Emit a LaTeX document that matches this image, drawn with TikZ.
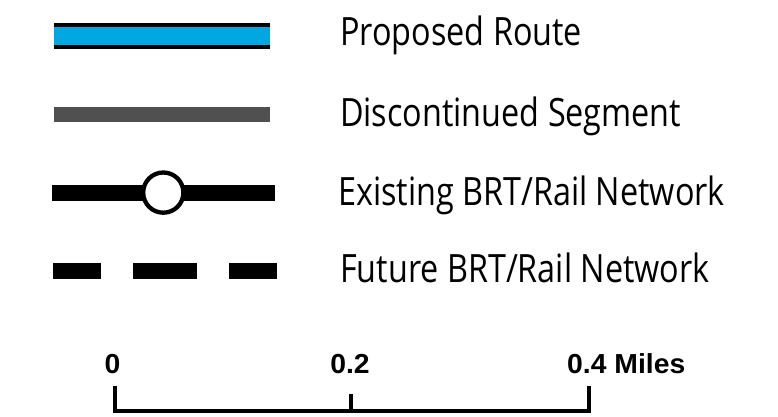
\documentclass[tikz,border=0pt]{standalone}
\usepackage{fontspec}
\setmainfont{Open Sans}
\newfontfamily\legfont[FakeStretch=0.83]{Open Sans}
\newfontfamily\barfont[FakeStretch=1.03]{Liberation Sans}
\definecolor{routeblue}{HTML}{00A7E1}
\definecolor{discgray}{HTML}{505050}
\begin{document}
\begin{tikzpicture}[x=1pt,y=-1pt,
  legtext/.style={anchor=base west,inner sep=0pt,font=\legfont\fontsize{39}{44}\selectfont},
  bartext/.style={anchor=base,inner sep=0pt,font=\barfont\bfseries\fontsize{27.5}{32}\selectfont},
  scaleline/.style={line width=4pt,line cap=rect,line join=miter}]
\useasboundingbox (0,0) rectangle (778,417);
% Proposed route
\fill[black] (54,22.7) rectangle (270,49);
\fill[routeblue] (54,26.7) rectangle (270,45);
% Discontinued segment
\fill[discgray] (54,106.7) rectangle (270,122);
% Existing network
\fill[black] (51.7,185) rectangle (275,200.7);
\draw[line width=4.3pt,fill=white] (163.3,192.6) circle (20.1);
% Future network
\fill[black] (53.3,263.3) rectangle (100.7,279);
\fill[black] (133.3,263.3) rectangle (197.3,279);
\fill[black] (229.3,263.3) rectangle (276.7,279);
% Labels
\node[legtext] (t1) at (340,46) {Proposed Route};
\node[legtext] (t2) at (340,126) {Discontinued Segment};
\node[legtext] (t3) at (338,205) {Existing BRT/Rail Network};
\node[legtext] (t4) at (340,282) {Future BRT/Rail Network};
% Scale bar
\coordinate (s0) at (115,410.5);
\coordinate (s1) at (351,410.5);
\coordinate (s2) at (589,410.5);
\draw[scaleline] (115,388) -- (s0) -- (s2) -- (589,388);
\draw[line width=3.5pt] (s1) -- (351,394);
\node[bartext] (l0) at (112.5,373.5) {0};
\node[bartext] (l1) at (350,373.5) {0.2};
\node[bartext,anchor=base west] (l2) at (567,373.5) {0.4 Miles};
\end{tikzpicture}
\end{document}
